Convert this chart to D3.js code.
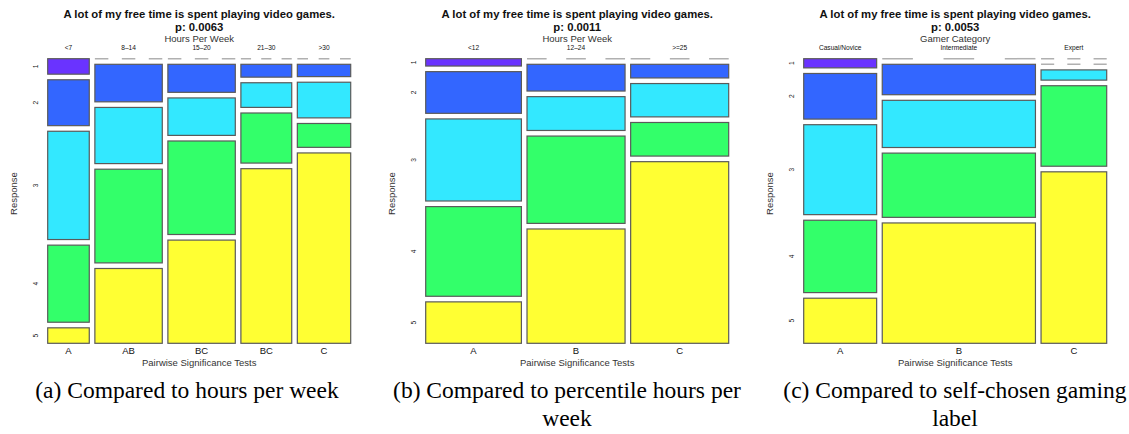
<!DOCTYPE html>
<html>
<head>
<meta charset="utf-8">
<script src="https://cdn.jsdelivr.net/npm/d3@7"></script>
<style>
  body { margin: 0; background: #fff; }
  text { font-family: "Liberation Sans", Arial, sans-serif; fill: #111; }
  .caption { font-family: "Liberation Serif", "Times New Roman", serif; fill: #000; }
</style>
</head>
<body>
<svg id="chart" width="1129" height="434"></svg>
<script>
// Data (percent of column, response levels 1..5)
const responses = ["1", "2", "3", "4", "5"];
const responseColors = ["#6a33ff", "#3366ff", "#33e8ff", "#33ff6a", "#ffff33"];

const hoursLabels = ["<7", "8\u201314", "15\u201320", "21\u201330", ">30"];
const hoursShare = [14.8, 24.0, 24.0, 18.1, 19.0];
const hoursProps = [
    [5.9, 17.5, 41.3, 29.4, 5.9],
    [0, 14.3, 21.4, 35.7, 28.5],
    [0, 10.7, 14.3, 35.7, 39.4],
    [0, 4.9, 9.4, 19.1, 66.6],
    [0, 4.7, 13.6, 9.1, 72.6]
];
const hoursLetters = ["A", "AB", "BC", "BC", "C"];

const pctLabels = ["<12", "12\u201324", ">=25"];
const pctShare = [32.8, 33.6, 33.6];
const pctProps = [
    [2.8, 15.9, 31.3, 34.2, 15.8],
    [0, 10.2, 12.9, 33.3, 43.6],
    [0, 5.2, 12.7, 12.8, 69.2]
];
const pctLetters = ["A", "B", "C"];

const gamerLabels = ["Casual/Novice", "Intermediate", "Expert"];
const gamerShare = [25.0, 52.5, 22.5];
const gamerProps = [
    [3.5, 17.4, 34.3, 27.6, 17.2],
    [0, 11.6, 18.0, 24.5, 45.9],
    [0, 0, 3.9, 30.7, 65.4]
];
const gamerLetters = ["A", "B", "C"];

const title = "A lot of my free time is spent playing video games.";
const pValues = ["p: 0.0063", "p: 0.0011", "p: 0.0053"];
const varNames = ["Hours Per Week", "Hours Per Week", "Gamer Category"];
const captions = [
    ["(a) Compared to hours per week"],
    ["(b) Compared to percentile hours per", "week"],
    ["(c) Compared to self-chosen gaming", "label"]
];

const panels = [
    { labels: hoursLabels, share: hoursShare, props: hoursProps, letters: hoursLetters },
    { labels: pctLabels, share: pctShare, props: pctProps, letters: pctLetters },
    { labels: gamerLabels, share: gamerShare, props: gamerProps, letters: gamerLetters }
];

// Layout
const svg = d3.select("#chart");
const plotW = 303, plotTop = 58.7, plotBottom = 343.3, gap = 5.6;
const panelX = [47.7, 425.7, 803.7];
const captionX = [187, 567, 955];

panels.forEach((p, k) => {
    const g = svg.append("g").attr("transform", `translate(${panelX[k]},0)`);
    const n = p.labels.length;
    const cx = plotW / 2;

    const x = d3.scaleLinear()
        .domain([0, d3.sum(p.share)])
        .range([0, plotW - gap * (n - 1)]);

    // columns
    const cols = p.share.map((s, i) => {
        const before = d3.sum(p.share.slice(0, i));
        const x0 = x(before) + i * gap;
        const w = x(before + s) - x(before);
        const y = d3.scaleLinear()
            .domain([0, d3.sum(p.props[i])])
            .range([0, (plotBottom - plotTop) - gap * (responses.length - 1)]);
        const cells = p.props[i].map((v, j) => {
            const cum = d3.sum(p.props[i].slice(0, j));
            return { col: i, level: j, v, x: x0, w, y: plotTop + y(cum) + j * gap, h: y(v) };
        });
        return { x0, w, cells, label: p.labels[i], letter: p.letters[i] };
    });

    const cells = cols.flatMap(c => c.cells);

    // tiles
    g.selectAll("rect.tile")
        .data(cells.filter(d => d.v > 0))
        .enter()
        .append("rect")
        .attr("class", "tile")
        .attr("x", d => d.x)
        .attr("y", d => d.y)
        .attr("width", d => d.w)
        .attr("height", d => d.h)
        .attr("fill", d => responseColors[d.level])
        .attr("stroke", "#5a5a5a")
        .attr("stroke-width", 1.2);

    // empty cells as dashed lines
    g.selectAll("line.empty")
        .data(cells.filter(d => d.v === 0))
        .enter()
        .append("line")
        .attr("x1", d => d.x)
        .attr("x2", d => d.x + d.w)
        .attr("y1", d => d.y)
        .attr("y2", d => d.y)
        .attr("stroke", "#b0b0b0")
        .attr("stroke-width", 1.5)
        .attr("stroke-dasharray", d => `${d.w / 5} ${d.w / 5}`);

    // column labels on top
    g.selectAll("text.colLabel")
        .data(cols)
        .enter()
        .append("text")
        .attr("x", d => d.x0 + d.w / 2)
        .attr("y", 47.7)
        .attr("dy", "0.35em")
        .attr("text-anchor", "middle")
        .style("font-size", "6.6px")
        .text(d => d.label);

    // significance letters below
    g.selectAll("text.letter")
        .data(cols)
        .enter()
        .append("text")
        .attr("x", d => d.x0 + d.w / 2)
        .attr("y", 350.7)
        .attr("dy", "0.35em")
        .attr("text-anchor", "middle")
        .style("font-size", "9.5px")
        .text(d => d.letter);

    // response labels at first column cell centres
    g.selectAll("text.resp")
        .data(cols[0].cells)
        .enter()
        .append("text")
        .attr("transform", d => `translate(-11.7,${d.y + d.h / 2}) rotate(-90)`)
        .attr("dy", "0.35em")
        .attr("text-anchor", "middle")
        .style("font-size", "6.6px")
        .text(d => responses[d.level]);

    // titles
    g.append("text")
        .attr("x", cx).attr("y", 18)
        .attr("text-anchor", "middle")
        .style("font-size", "11.3px")
        .style("font-weight", "bold")
        .text(title);

    g.append("text")
        .attr("x", cx).attr("y", 30.7)
        .attr("text-anchor", "middle")
        .style("font-size", "11.3px")
        .style("font-weight", "bold")
        .text(pValues[k]);

    g.append("text")
        .attr("x", cx).attr("y", 38.3)
        .attr("dy", "0.35em")
        .attr("text-anchor", "middle")
        .style("font-size", "9.5px")
        .style("fill", "#333")
        .text(varNames[k]);

    g.append("text")
        .attr("transform", `translate(-33.7,193.5) rotate(-90)`)
        .attr("dy", "0.35em")
        .attr("text-anchor", "middle")
        .style("font-size", "9.5px")
        .style("fill", "#333")
        .text("Response");

    g.append("text")
        .attr("x", cx).attr("y", 362.3)
        .attr("dy", "0.35em")
        .attr("text-anchor", "middle")
        .style("font-size", "9.5px")
        .style("fill", "#333")
        .text("Pairwise Significance Tests");

    // caption
    svg.append("text")
        .attr("class", "caption")
        .attr("x", captionX[k])
        .attr("text-anchor", "middle")
        .style("font-size", "23.5px")
        .selectAll("tspan")
        .data(captions[k])
        .enter()
        .append("tspan")
        .attr("x", captionX[k])
        .attr("y", (d, i) => 398 + i * 28.3)
        .text(d => d);
});
</script>
</body>
</html>
